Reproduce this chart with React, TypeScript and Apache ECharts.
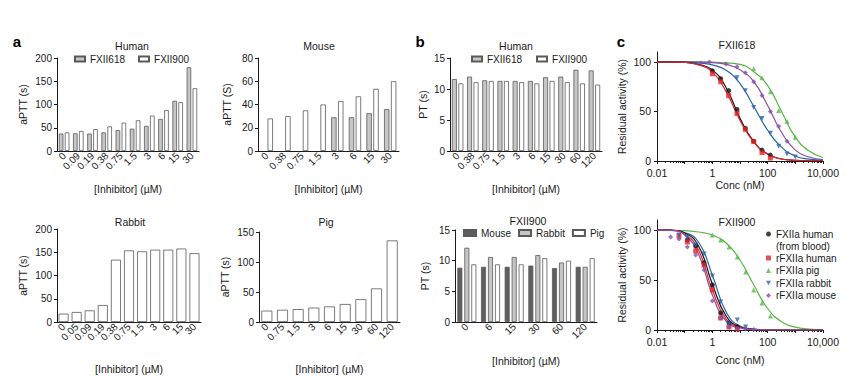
import React, { useEffect, useRef } from 'react';
import * as echarts from 'echarts';

const FONT = '"Liberation Sans", Arial, Helvetica, sans-serif';
const INK = '#1a1a1a';
const GREY618 = '#c6c6c6';
const BORDER = '#5a5a5a';

// ---- Panel a : aPTT, Human ----
const aHumanCats = ['0', '0.09', '0.19', '0.38', '0.75', '1.5', '3', '6', '15', '30'];
const aHumanFXII618 = [37.5, 38, 37.5, 40, 45, 48, 54, 69, 108, 180];
const aHumanFXII900 = [40, 43, 47, 53, 61, 66, 76, 88, 105, 135];

// ---- Panel a : aPTT, Mouse ----
const aMouseCats = ['0', '0.38', '0.75', '1.5', '3', '6', '15', '30'];
const aMouseFXII618 = [null, null, null, null, 29, 29, 32.5, 36];
const aMouseFXII900 = [28, 30, 35, 40, 43, 47, 53.5, 60];

// ---- Panel a : aPTT, Rabbit ----
const aRabbitCats = ['0', '0.05', '0.09', '0.19', '0.38', '0.75', '1.5', '3', '6', '15', '30'];
const aRabbitFXII900 = [18, 21.5, 25, 36.5, 134, 154, 152, 155.5, 155.5, 158, 148];

// ---- Panel a : aPTT, Pig ----
const aPigCats = ['0', '0.75', '1.5', '3', '6', '15', '30', '60', '120'];
const aPigFXII900 = [19, 20.4, 21.5, 24, 26, 30, 38, 56, 136];

// ---- Panel b : PT, Human ----
const bHumanCats = ['0', '0.38', '0.75', '1.5', '3', '6', '15', '30', '60', '120'];
const bHumanFXII618 = [11.6, 12.0, 11.4, 11.3, 11.3, 11.3, 11.9, 12.0, 13.1, 13.0];
const bHumanFXII900 = [10.9, 11.1, 11.3, 11.3, 11.1, 10.9, 11.3, 11.1, 10.9, 10.7];

// ---- Panel b : PT, FXII900 in species ----
const bSpeciesCats = ['0', '6', '15', '30', '60', '120'];
const bMouse = [8.85, 9.0, 9.0, 9.2, 8.8, 9.0];
const bRabbit = [12.1, 10.6, 10.6, 10.9, 9.7, 9.0];
const bPig = [9.4, 9.4, 9.4, 10.4, 10.0, 10.4];

// ---- Panel c : residual activity (fitted curves read at half decades) ----
const curveConc = [0.01, 0.0316, 0.1, 0.316, 1, 3.16, 10, 31.6, 100, 316, 1000, 3162, 10000];

const topCurveBlack = [100, 99.9, 99.6, 97.5, 92, 74, 43, 19.5, 7, 2, 0.6, 0.2, 0.1];
const topCurveRed = [100, 99.9, 99.5, 97, 90, 70, 41, 19, 6.7, 2, 0.6, 0.2, 0.1];
const topCurvePig = [100, 100, 100, 100, 99.7, 99, 97.5, 90, 76, 50, 24, 10, 3.5];
const topCurveRabbit = [100, 100, 99.8, 99, 97, 91.5, 78, 55, 31, 14, 5, 1.8, 0.6];
const topCurveMouse = [100, 100, 100, 99.7, 99.3, 97.5, 92, 80, 56, 29, 11, 4, 1.3];

const botCurveBlack = [100, 99.8, 97, 84, 46, 14, 3, 0.6, 0.1, 0, 0, 0, 0];
const botCurveRed = [100, 99.7, 96, 80, 40, 11, 2.5, 0.5, 0.1, 0, 0, 0, 0];
const botCurvePig = [100, 99.8, 99.3, 98, 95, 87, 70, 45, 21.5, 8.3, 2.8, 1, 0.3];
const botCurveRabbit = [100, 99.8, 97.5, 88, 55, 18, 4, 1, 0.2, 0, 0, 0, 0];
const botCurveMouse = [100, 99.5, 95, 76, 35, 9, 2, 0.4, 0.1, 0, 0, 0, 0];

// measured points, FXII618
const topBlackConc = [1, 2, 3.9, 7.8, 15.6, 31.3, 62.5, 125];
const topBlackVal = [91, 83, 71, 52, 33, 20, 11, 6];
const topRedConc = [1, 2, 3.9, 7.8, 15.6, 31.3, 62.5, 125];
const topRedVal = [88, 80, 66, 48, 32, 19.5, 8.5, 3];
const topPigConc = [31.3, 62.5, 125, 250, 500, 1000];
const topPigVal = [93, 84, 70, 51, 40, 24];
const topRabbitConc = [7.8, 15.6, 31.3, 62.5, 125, 250, 500, 1000];
const topRabbitVal = [84, 71, 54, 43, 28, 15, 7, 4];
const topMouseConc = [0.39, 0.78, 3.1, 7.8, 15.6, 31.3, 62.5, 125, 250, 500];
const topMouseVal = [99, 100, 98, 95, 89, 80, 66, 50, 35, 20];

// measured points, FXII900
const botBlackConc = [0.125, 0.25, 0.5, 1, 2, 4, 8];
const botBlackVal = [90, 84, 67, 45, 17, 7, 3];
const botRedConc = [0.0625, 0.125, 0.25, 0.5, 1, 2, 4, 8];
const botRedVal = [94, 88, 79, 65, 40, 12, 3, 1];
const botPigConc = [1, 2, 4, 8, 16, 31.3, 62.5, 125];
const botPigVal = [95, 90, 83, 73, 58, 40, 27, 14];
const botRabbitConc = [0.0625, 0.125, 0.25, 0.5, 1, 2, 4, 8, 16];
const botRabbitVal = [95, 93, 85, 76, 54, 28, 6, 10, 3];
const botMouseConc = [0.031, 0.0625, 0.125, 0.25, 0.5, 1, 2, 4, 8, 16, 31.3];
const botMouseVal = [93, 91, 83, 75, 60, 29, 12, 3, 1.5, 1, 0.5];

const C_BLACK = '#111111';
const C_RED = '#e3242b';
const C_PIG = '#57b548';
const C_RABBIT = '#2a64ad';
const C_MOUSE = '#8a4fa8';

const pairs = (xs: number[], ys: number[]) => xs.map((x, i) => [x, ys[i]]);

const txt = (size = 10) => ({ fontSize: size, fontFamily: FONT, color: INK });

function catAxis(gridIndex: number, cats: string[], nameGap: number) {
  return {
    type: 'category',
    gridIndex,
    data: cats,
    axisLine: { show: true, lineStyle: { color: INK, width: 1 } },
    axisTick: { show: false },
    axisLabel: { ...txt(10), rotate: 45, margin: 3, interval: 0 },
    name: '[Inhibitor] (\u00b5M)',
    nameLocation: 'middle',
    nameGap,
    nameTextStyle: txt(10.5),
  };
}

function valAxis(gridIndex: number, max: number, interval: number, name: string, nameGap: number) {
  return {
    type: 'value',
    gridIndex,
    min: 0,
    max,
    interval,
    axisLine: { show: true, lineStyle: { color: INK, width: 1 } },
    axisTick: { show: true, length: 3, lineStyle: { color: INK } },
    axisLabel: { ...txt(10), margin: 5 },
    splitLine: { show: false },
    name,
    nameLocation: 'middle',
    nameGap,
    nameTextStyle: txt(10.5),
  };
}

const fmtLog = (v: number) => {
  const e = Math.log10(v);
  const r = Math.round(e);
  if (Math.abs(e - r) > 1e-6) return '';
  const map: Record<string, string> = { '-2': '0.01', '0': '1', '2': '100', '4': '10,000' };
  return map[String(r)] ?? '';
};

function logAxis(gridIndex: number, nameGap: number) {
  return {
    type: 'log',
    logBase: 10,
    gridIndex,
    min: 0.01,
    max: 10000,
    axisLine: { show: true, lineStyle: { color: INK, width: 1 } },
    axisTick: { show: true, length: 3, lineStyle: { color: INK } },
    minorTick: { show: true, splitNumber: 9, length: 2, lineStyle: { color: INK } },
    axisLabel: { ...txt(10.5), margin: 6, interval: 0, formatter: fmtLog },
    splitLine: { show: false },
    minorSplitLine: { show: false },
    name: 'Conc (nM)',
    nameLocation: 'middle',
    nameGap,
    nameTextStyle: txt(10.5),
  };
}

function pctAxis(gridIndex: number) {
  return {
    type: 'value',
    gridIndex,
    min: 0,
    max: 110,
    interval: 50,
    axisLine: { show: true, lineStyle: { color: INK, width: 1 } },
    axisTick: { show: true, length: 3, lineStyle: { color: INK }, customValues: [0, 50, 100] },
    axisLabel: { ...txt(10.5), margin: 6, customValues: [0, 50, 100] },
    splitLine: { show: false },
    name: 'Residual activity (%)',
    nameLocation: 'middle',
    nameGap: 30,
    nameTextStyle: txt(10.5),
  };
}

function bar(name: string, idx: number, data: (number | null)[], fill: string, extra: any = {}) {
  return {
    type: 'bar',
    name,
    xAxisIndex: idx,
    yAxisIndex: idx,
    data,
    itemStyle: { color: fill, borderColor: BORDER, borderWidth: 0.8 },
    ...extra,
  };
}

function curve(name: string, idx: number, ys: number[], color: string) {
  return {
    type: 'line',
    name,
    xAxisIndex: idx,
    yAxisIndex: idx,
    data: pairs(curveConc, ys),
    showSymbol: false,
    smooth: 0.5,
    lineStyle: { color, width: 1.2 },
    itemStyle: { color },
    z: 2,
  };
}

function points(name: string, idx: number, xs: number[], ys: number[], color: string, symbol: string, rot = 0) {
  return {
    type: 'scatter',
    name,
    xAxisIndex: idx,
    yAxisIndex: idx,
    data: pairs(xs, ys),
    symbol,
    symbolRotate: rot,
    symbolSize: 5,
    itemStyle: { color },
    z: 3,
  };
}

function title(text: string, x: number, y: number, size = 10.5) {
  return {
    type: 'text',
    x,
    y,
    style: { text, fontSize: size, fontFamily: FONT, fill: INK, textAlign: 'center', textVerticalAlign: 'middle' },
  };
}

function panelLabel(text: string, x: number, y: number) {
  return {
    type: 'text',
    x,
    y,
    style: { text, fontSize: 15, fontWeight: 'bold', fontFamily: FONT, fill: '#000', textAlign: 'center', textVerticalAlign: 'middle' },
  };
}

const legendBase = {
  padding: 0,
  selectedMode: false,
  textStyle: { ...txt(10), lineHeight: 12 },
};

export default function App() {
  const ref = useRef<HTMLDivElement>(null);

  useEffect(() => {
    if (!ref.current) return;
    const chart = echarts.init(ref.current, undefined, { renderer: 'svg' });

    const option: any = {
      animation: false,
      backgroundColor: '#ffffff',
      textStyle: { fontFamily: FONT },
      grid: [
        { left: 57, top: 58, width: 142, height: 93 },
        { left: 258, top: 58, width: 141, height: 93 },
        { left: 57, top: 229, width: 144, height: 93 },
        { left: 259, top: 232, width: 141, height: 90 },
        { left: 450, top: 58, width: 152, height: 93 },
        { left: 455, top: 230, width: 142, height: 92 },
        { left: 657, top: 52, width: 166, height: 109 },
        { left: 657, top: 220, width: 166, height: 110 },
      ],
      xAxis: [
        catAxis(0, aHumanCats, 32),
        catAxis(1, aMouseCats, 32),
        catAxis(2, aRabbitCats, 41),
        catAxis(3, aPigCats, 41),
        catAxis(4, bHumanCats, 32),
        catAxis(5, bSpeciesCats, 33),
        logAxis(6, 18),
        logAxis(7, 24),
      ],
      yAxis: [
        valAxis(0, 200, 50, 'aPTT (s)', 29),
        valAxis(1, 80, 20, 'aPTT (S)', 26),
        valAxis(2, 200, 50, 'aPTT (s)', 29),
        valAxis(3, 150, 50, 'aPTT (s)', 29),
        valAxis(4, 15, 5, 'PT (s)', 22),
        valAxis(5, 15, 5, 'PT (s)', 25),
        pctAxis(6),
        pctAxis(7),
      ],
      legend: [
        { ...legendBase, data: ['FXII618', 'FXII900'], left: 74, top: 53, itemWidth: 10, itemHeight: 5, itemGap: 13, icon: 'rect' },
        { ...legendBase, data: ['FXII618', 'FXII900'], left: 471, top: 53, itemWidth: 10, itemHeight: 5, itemGap: 14, icon: 'rect' },
        { ...legendBase, data: ['Mouse', 'Rabbit', 'Pig'], left: 463, top: 227, itemWidth: 12, itemHeight: 6, itemGap: 7, icon: 'rect' },
        { ...legendBase, data: ['FXIIa human'], left: 766, top: 228, orient: 'vertical', itemWidth: 5, itemHeight: 5 },
        {
          ...legendBase,
          data: [
            'rFXIIa human',
            'rFXIIa pig',
            { name: 'rFXIIa rabbit', icon: 'path://M0,0L10,0L5,9Z' },
            'rFXIIa mouse',
          ],
          left: 766,
          top: 252,
          orient: 'vertical',
          itemWidth: 5,
          itemHeight: 5,
          itemGap: 0.5,
        },
      ],
      graphic: [
        panelLabel('a', 17, 41),
        panelLabel('b', 420, 41),
        panelLabel('c', 621, 41),
        title('Human', 132, 46),
        title('Mouse', 319, 46),
        title('Rabbit', 130, 222),
        title('Pig', 326, 222),
        title('Human', 516, 46),
        title('FXII900', 528, 221),
        title('FXII618', 737, 45),
        title('FXII900', 737, 222),
        {
          type: 'text',
          x: 776,
          y: 246,
          style: { text: '(from blood)', fontSize: 10, fontFamily: FONT, fill: INK, textAlign: 'left', textVerticalAlign: 'middle' },
        },
      ],
      series: [
        bar('FXII618', 0, aHumanFXII618, GREY618, { barWidth: 4.6, barGap: '30%' }),
        bar('FXII900', 0, aHumanFXII900, '#ffffff', { barWidth: 4.6, barGap: '30%' }),
        bar('FXII618', 1, aMouseFXII618, GREY618, { barWidth: 5.4, barGap: '28%' }),
        bar('FXII900', 1, aMouseFXII900, '#ffffff', { barWidth: 5.4, barGap: '28%' }),
        bar('Rabbit FXII900', 2, aRabbitFXII900, '#ffffff', { barWidth: 10 }),
        bar('Pig FXII900', 3, aPigFXII900, '#ffffff', { barWidth: 11 }),
        bar('FXII618', 4, bHumanFXII618, GREY618, { barWidth: 5, barGap: '30%' }),
        bar('FXII900', 4, bHumanFXII900, '#ffffff', { barWidth: 5, barGap: '30%' }),
        bar('Mouse', 5, bMouse, '#5e5e5e', { barWidth: 5, barGap: '40%' }),
        bar('Rabbit', 5, bRabbit, GREY618, { barWidth: 5, barGap: '40%' }),
        bar('Pig', 5, bPig, '#ffffff', { barWidth: 5, barGap: '40%' }),

        curve('c618 pig', 6, topCurvePig, C_PIG),
        curve('c618 mouse', 6, topCurveMouse, C_MOUSE),
        curve('c618 rabbit', 6, topCurveRabbit, C_RABBIT),
        curve('c618 black', 6, topCurveBlack, C_BLACK),
        curve('c618 red', 6, topCurveRed, C_RED),
        points('FXIIa human', 6, topBlackConc, topBlackVal, C_BLACK, 'circle'),
        points('rFXIIa human', 6, topRedConc, topRedVal, C_RED, 'rect'),
        points('rFXIIa pig', 6, topPigConc, topPigVal, C_PIG, 'triangle'),
        points('rFXIIa rabbit', 6, topRabbitConc, topRabbitVal, C_RABBIT, 'triangle', 180),
        points('rFXIIa mouse', 6, topMouseConc, topMouseVal, C_MOUSE, 'diamond'),

        curve('c900 pig', 7, botCurvePig, C_PIG),
        curve('c900 rabbit', 7, botCurveRabbit, C_RABBIT),
        curve('c900 black', 7, botCurveBlack, C_BLACK),
        curve('c900 red', 7, botCurveRed, C_RED),
        curve('c900 mouse', 7, botCurveMouse, C_MOUSE),
        points('FXIIa human', 7, botBlackConc, botBlackVal, C_BLACK, 'circle'),
        points('rFXIIa human', 7, botRedConc, botRedVal, C_RED, 'rect'),
        points('rFXIIa pig', 7, botPigConc, botPigVal, C_PIG, 'triangle'),
        points('rFXIIa rabbit', 7, botRabbitConc, botRabbitVal, C_RABBIT, 'triangle', 180),
        points('rFXIIa mouse', 7, botMouseConc, botMouseVal, C_MOUSE, 'diamond'),
      ],
    };

    chart.setOption(option);
    return () => chart.dispose();
  }, []);

  return (
    <div
      ref={ref}
      style={{ position: 'absolute', left: 0, top: 0, width: 857, height: 377, background: '#fff' }}
    />
  );
}
